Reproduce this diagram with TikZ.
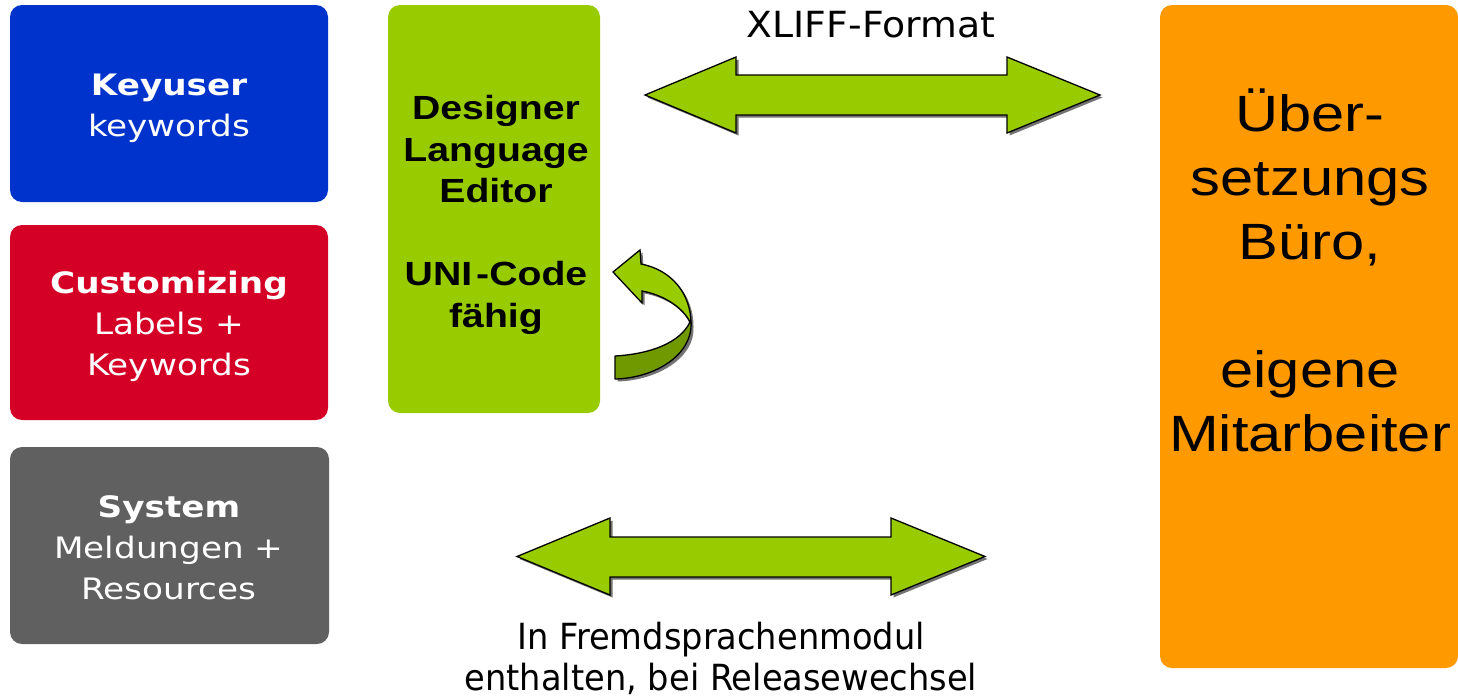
\documentclass[tikz,border=0pt]{standalone}
\usepackage{fontspec}
\setmainfont{DejaVu Sans}
\newfontfamily\lbfont[FakeStretch=1.16]{DejaVu Sans}
\newfontfamily\grfont[FakeStretch=1.17]{Liberation Sans}
\newfontfamily\orfont[FakeStretch=1.17]{Liberation Sans}
\newfontfamily\xlfont[FakeStretch=1.05]{DejaVu Sans}
\newfontfamily\btfont[FakeStretch=0.935]{DejaVu Sans}
\definecolor{kblue}{RGB}{0,51,204}
\definecolor{kred}{RGB}{212,0,38}
\definecolor{kgray}{RGB}{96,96,96}
\definecolor{kgreen}{RGB}{153,204,0}
\definecolor{kdgreen}{RGB}{112,153,0}
\definecolor{korange}{RGB}{255,153,0}
\begin{document}
\begin{tikzpicture}[x=1pt,y=-1pt,
  box/.style={rectangle, rounded corners=12pt, draw=none, inner sep=0pt},
  lefttext/.style={text=white, align=center, inner sep=0pt, font=\lbfont\fontsize{29.5}{41}\selectfont},
  greentext/.style={text=black, align=center, inner sep=0pt, font=\grfont\bfseries\fontsize{33.5}{41.5}\selectfont},
  orangetext/.style={text=black, align=center, inner sep=0pt, font=\orfont\fontsize{51}{64}\selectfont},
  blockarrow/.style={fill=kgreen, draw=black, line width=1.3pt, line join=miter},
  arrowshadow/.style={fill=black!55, draw=none}]
\useasboundingbox (0,0) rectangle (1458,699);

% boxes
\node[box, fill=kblue, minimum width=318pt, minimum height=197pt] (keyuser) at (169,103.5) {};
\node[box, fill=kred, minimum width=318pt, minimum height=195pt] (custom) at (169,322.5) {};
\node[box, fill=kgray, minimum width=319pt, minimum height=197pt] (system) at (169.5,545.5) {};
\node[box, fill=kgreen, minimum width=212pt, minimum height=408pt] (editor) at (494,209) {};
\node[box, fill=korange, minimum width=298pt, minimum height=663pt] (office) at (1309,336.5) {};

% box texts
\node[lefttext] (keyusertxt) at (169,108) {\textbf{Keyuser}\\keywords};
\node[lefttext] (customtxt) at (169,326) {\textbf{Customizing}\\Labels +\\Keywords};
\node[lefttext] (systemtxt) at (169,548) {\textbf{System}\\Meldungen +\\Resources};
\node[greentext] (editortxt) at (496,215) {Designer\\Language\\Editor\\[41.5pt]UNI\kern4pt-Code\\fähig};
\node[orangetext] (officetxt) at (1310,270) {Über-\\setzungs\\Büro,\\[64pt]eigene\\Mitarbeiter};

% top double arrow
\begin{scope}[shift={(2.5,2.5)}]
\fill[arrowshadow] (645,95) -- (736,57) -- (736,75) -- (1007,75) -- (1007,57) -- (1100,95)
  -- (1007,133) -- (1007,115) -- (736,115) -- (736,133) -- cycle;
\end{scope}
\draw[blockarrow] (645,95) -- (736,57) -- (736,75) -- (1007,75) -- (1007,57) -- (1100,95)
  -- (1007,133) -- (1007,115) -- (736,115) -- (736,133) -- cycle;
\node[font=\xlfont\fontsize{36}{40}\selectfont, anchor=base, inner sep=0pt] (xliff) at (871,37) {XLIFF-Format};

% bottom double arrow
\begin{scope}[shift={(2.5,2.5)}]
\fill[arrowshadow] (517,556.5) -- (610,518) -- (610,537) -- (891,537) -- (891,518) -- (985,556.5)
  -- (891,595) -- (891,577) -- (610,577) -- (610,595) -- cycle;
\end{scope}
\draw[blockarrow] (517,556.5) -- (610,518) -- (610,537) -- (891,537) -- (891,518) -- (985,556.5)
  -- (891,595) -- (891,577) -- (610,577) -- (610,595) -- cycle;
\node[font=\btfont\fontsize{36}{41}\selectfont, align=center, inner sep=0pt] (modul) at (721,658)
  {In Fremdsprachenmodul\\enthalten, bei Releasewechsel};

% curved arrow (shadow)
\begin{scope}[shift={(2.5,2.5)}]
\fill[arrowshadow] (613,272) -- (640,250) -- (641,264)
  .. controls (672,270) and (691,294) .. (691,324)
  .. controls (693,355) and (655,378) .. (615,379) -- (615,356)
  .. controls (650,354) and (680,343) .. (688,324)
  .. controls (684,308) and (664,295) .. (642,291) -- (642,303) -- cycle;
\end{scope}
% light upper part
\draw[fill=kgreen, draw=black, line width=1.3pt, line join=miter]
  (613,272) -- (640,250) -- (641,264)
  .. controls (672,270) and (691,294) .. (691,324)
  .. controls (684,308) and (664,295) .. (642,291) -- (642,303) -- cycle;
% dark lower part
\draw[fill=kdgreen, draw=black, line width=1.3pt, line join=round]
  (691,322) .. controls (693,355) and (655,378) .. (615,379) -- (615,356)
  .. controls (650,354) and (680,343) .. (690,322) -- cycle;
\end{tikzpicture}
\end{document}
